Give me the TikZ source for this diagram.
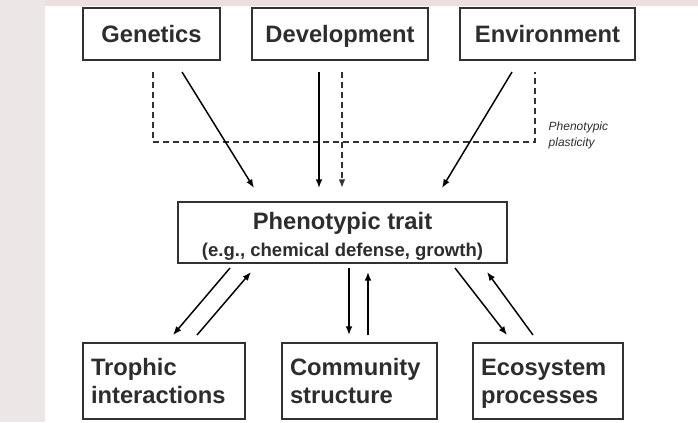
\documentclass[tikz,border=0pt]{standalone}
\usepackage{fontspec}
\setmainfont{Liberation Sans}
\usetikzlibrary{arrows.meta}

\definecolor{boxgray}{RGB}{50,50,50}
\definecolor{txtgray}{RGB}{45,45,45}
\definecolor{edgegray}{RGB}{236,230,230}
\definecolor{edgepink}{RGB}{240,222,222}

\begin{document}
\begin{tikzpicture}[x=0.75pt,y=0.75pt,yscale=-1,xscale=1,
  box/.style={draw=boxgray, line width=1.8pt, fill=white, inner xsep=6pt, inner ysep=0pt,
    text=txtgray, font=\fontsize{17.8}{21}\selectfont\bfseries},
  topbox/.style={box, minimum height=39pt, text height=13pt, text depth=0pt},
  lowbox/.style={box, minimum height=57pt, align=left},
  arrowline/.style={-{Latex[length=6.5pt,width=5pt]}, line width=1.1pt, black},
  plasticline/.style={dash pattern=on 4.5pt off 3pt, line width=1.5pt, boxgray}]
\path[use as bounding box] (0,0) rectangle (698,422);

%background
\fill[edgegray] (0,0) rectangle (45,422);
\fill[edgepink] (45,0) rectangle (698,6);

%Shape: Rectangle (top row)
\node[topbox, minimum width=102.75pt] (gen) at (151.5,34) {Genetics};
\node[topbox, minimum width=132pt] (dev) at (340,34) {Development};
\node[topbox, minimum width=131.25pt] (env) at (547.5,34) {Environment};

%Shape: Rectangle (trait)
\node[box, minimum width=246.75pt, minimum height=45.75pt, align=center] (trait) at (342.5,232.5)
  {\rule{0pt}{19pt}Phenotypic trait\\[-1pt]{\fontsize{13.9}{17}\selectfont (e.g., chemical defense, growth)}};

%Shape: Rectangle (bottom row)
\node[lowbox, text width=109.5pt] (troph) at (164,381) {\rule{0pt}{16pt}Trophic\\interactions\vphantom{p}};
\node[lowbox, text width=104.25pt] (comm) at (359.5,381) {\rule{0pt}{16pt}Community\\structure\vphantom{p}};
\node[lowbox, text width=100.5pt] (eco) at (548,381) {\rule{0pt}{16pt}Ecosystem\\processes};

% Text Node
\node[anchor=west, align=left, text=txtgray, font=\fontsize{9}{12}\selectfont\itshape] (plast) at (544,135) {Phenotypic\\plasticity};

%end points
\coordinate (gen-a) at (182,72);   \coordinate (gen-b) at (254,188);
\coordinate (dev-a) at (319,72);   \coordinate (dev-b) at (319,188);
\coordinate (devp-a) at (342,72);  \coordinate (devp-b) at (342,188);
\coordinate (env-a) at (512,72);   \coordinate (env-b) at (442,188);
\coordinate (genp-a) at (153,72);  \coordinate (genp-b) at (153,142);
\coordinate (envp-a) at (535,72);  \coordinate (envp-b) at (535,142);

\coordinate (tr-a) at (230,268);   \coordinate (tr-b) at (173,335);
\coordinate (tr-c) at (197,335);   \coordinate (tr-d) at (251,272);
\coordinate (co-a) at (349,268);   \coordinate (co-b) at (349,335);
\coordinate (co-c) at (368,335);   \coordinate (co-d) at (368,272);
\coordinate (ec-a) at (455,268);   \coordinate (ec-b) at (507,335);
\coordinate (ec-c) at (533,335);   \coordinate (ec-d) at (487,272);

%Dashed Lines
\draw[plasticline] (genp-a) -- (genp-b) -- (envp-b) -- (envp-a);
\draw[plasticline, -{Latex[length=6.5pt,width=5pt]}] (devp-a) -- (devp-b);

%Straight Lines
\draw[arrowline] (gen-a) -- (gen-b);
\draw[arrowline] (dev-a) -- (dev-b);
\draw[arrowline] (env-a) -- (env-b);

\draw[arrowline] (tr-a) -- (tr-b);
\draw[arrowline] (tr-c) -- (tr-d);
\draw[arrowline] (co-a) -- (co-b);
\draw[arrowline] (co-c) -- (co-d);
\draw[arrowline] (ec-a) -- (ec-b);
\draw[arrowline] (ec-c) -- (ec-d);

\end{tikzpicture}
\end{document}
